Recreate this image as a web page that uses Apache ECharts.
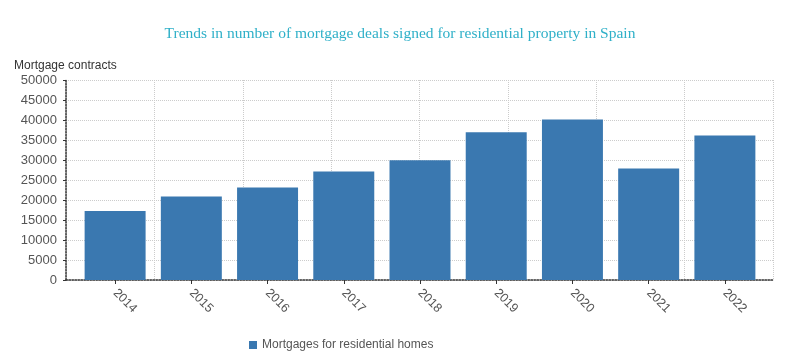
<!DOCTYPE html>
<html><head><meta charset="utf-8">
<script src="https://cdn.jsdelivr.net/npm/echarts@6/dist/echarts.min.js"></script>
<style>html,body{margin:0;padding:0;background:#fff}#c{width:800px;height:363px}</style>
</head><body><div id="c"></div>
<script>
const titleText = 'Trends in number of mortgage deals signed for residential property in Spain';
const yAxisName = 'Mortgage contracts';
const seriesName = 'Mortgages for residential homes';
const years = ['2014','2015','2016','2017','2018','2019','2020','2021','2022'];
const mortgages = [17250, 20850, 23100, 27150, 29950, 36950, 40100, 27850, 36150];

const chart = echarts.init(document.getElementById('c'));
const lab = {color:'#555', fontFamily:'Arial, Liberation Sans, sans-serif', fontSize:13};
chart.setOption({
  animation:false,
  title:{text:titleText, left:'center', top:21,
    textStyle:{fontFamily:'Liberation Serif, Times New Roman, serif', fontWeight:'normal', fontSize:15.5, color:'#2fb0c8'}},
  legend:{data:[seriesName], left:244, top:334, itemWidth:8, itemHeight:8, itemGap:4, icon:'rect',
    textStyle:{color:'#555', fontFamily:'Arial, Liberation Sans, sans-serif', fontSize:12}},
  grid:[
    {left:66, right:27, top:80, bottom:83, containLabel:false},
    {left:77, right:37, top:80, bottom:83, containLabel:false}
  ],
  xAxis:[
    {gridIndex:0, type:'value', min:0, max:8, interval:1,
      axisLabel:{show:false}, axisTick:{show:false},
      axisLine:{show:true, lineStyle:{color:'#333', type:'dotted', width:1.5}},
      splitLine:{show:true, lineStyle:{color:'#cccccc', type:'dotted'}}},
    {gridIndex:1, type:'category', data:years, boundaryGap:true,
      axisLine:{show:false},
      axisTick:{show:true, alignWithLabel:true, length:4, lineStyle:{color:'#333'}},
      axisLabel:Object.assign({}, lab, {rotate:-45, margin:11, fontSize:12.5}),
      splitLine:{show:false}}
  ],
  yAxis:[
    {gridIndex:0, type:'value', min:0, max:50000, interval:5000,
      name:yAxisName, nameLocation:'end', nameGap:8,
      nameTextStyle:Object.assign({}, lab, {align:'left', padding:[0,0,0,-52], fontSize:12, color:'#333'}),
      axisLine:{show:true, lineStyle:{color:'#333', type:'dotted', width:1.5}},
      axisTick:{show:true, inside:false, length:3, lineStyle:{color:'#333'}},
      axisLabel:Object.assign({margin:9, formatter:v => String(v)}, lab),
      splitLine:{show:true, lineStyle:{color:'#cccccc', type:'dotted'}}},
    {gridIndex:1, type:'value', min:0, max:50000, interval:5000, show:false,
      splitLine:{show:false}}
  ],
  series:[{name:seriesName, type:'bar', xAxisIndex:1, yAxisIndex:1, data:mortgages,
    barCategoryGap:'20%', itemStyle:{color:'#3a78b0'}}]
});
</script></body></html>
